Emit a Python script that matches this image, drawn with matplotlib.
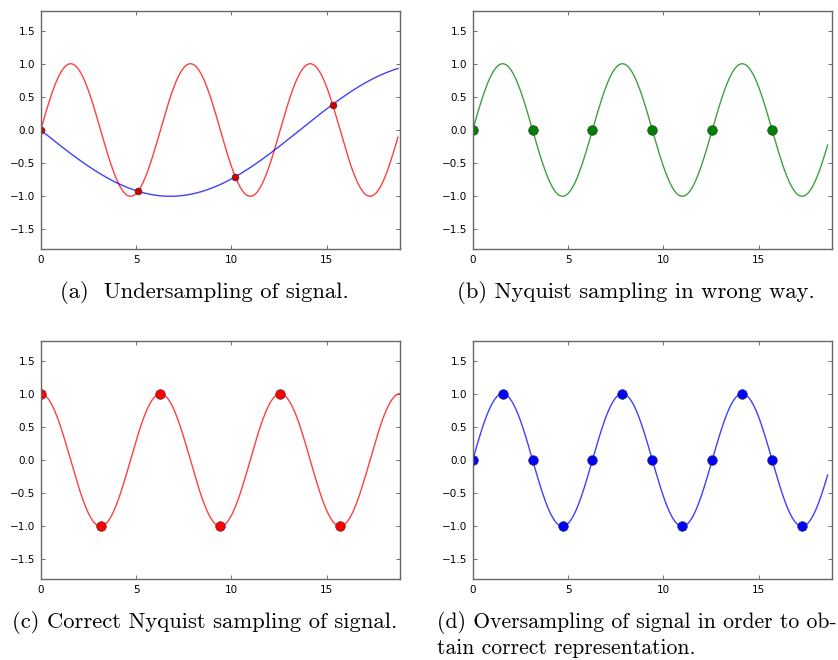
import numpy as np
import matplotlib
matplotlib.use("Agg")
import matplotlib.pyplot as plt

# signal: sin(x) on [0, 6*pi]
x_end = 18.62
x_end_a = 18.74
x_max = 6 * np.pi

# (a) undersampling: sample positions and the aliased signal period
under_x = [0.0, 5.105, 10.21, 15.315]
alias_period = 27.2

# (b) nyquist in the wrong phase (samples at zero crossings)
nyq_x = [0.0, np.pi, 2 * np.pi, 3 * np.pi, 4 * np.pi, 5 * np.pi]

# (c) correct nyquist (cosine sampled at its extremes)
correct_x = [0.0, np.pi, 2 * np.pi, 3 * np.pi, 4 * np.pi, 5 * np.pi]

# (d) oversampling
over_x = [k * np.pi / 2 for k in range(12)]

captions = [
    "(a)  Undersampling of signal.",
    "(b) Nyquist sampling in wrong way.",
    "(c) Correct Nyquist sampling of signal.",
    "(d) Oversampling of signal in order to ob-",
    "tain correct representation.",
]

W, H = 838, 660
fig = plt.figure(figsize=(W / 100, H / 100), dpi=100, facecolor="white")

boxes = [
    (40.7, 10.7), (472.7, 10.7),
    (40.7, 340.7), (472.7, 340.7),
]
ax_w, ax_h = 359.3, 238.6
axes = []
for left, top in boxes:
    ax = fig.add_axes([left / W, 1 - (top + ax_h) / H, ax_w / W, ax_h / H])
    axes.append(ax)

xs = np.linspace(0, x_end, 600)
xs_a = np.linspace(0, x_end_a, 600)
xs_c = np.linspace(0, x_max, 600)

ms = dict(marker="o", linestyle="none", markeredgecolor="#333333", markeredgewidth=0.4)

ax = axes[0]
ax.plot(xs_a, np.sin(xs_a), color="red", lw=1, alpha=0.75)
ax.plot(xs_a, -np.sin(2 * np.pi * xs_a / alias_period), color="blue", lw=1, alpha=0.75)
ax.plot(under_x, np.sin(under_x), color="#cc0000", markersize=5, **ms)

ax = axes[1]
ax.plot(xs, np.sin(xs), color="green", lw=1, alpha=0.75)
ax.plot(nyq_x, np.sin(nyq_x) * 0, color="green", markersize=7, **ms)

ax = axes[2]
ax.plot(xs_c, np.cos(xs_c), color="red", lw=1, alpha=0.75)
ax.plot(correct_x, np.cos(correct_x), color="red", markersize=7, **ms)

ax = axes[3]
ax.plot(xs, np.sin(xs), color="blue", lw=1, alpha=0.75)
ax.plot(over_x, np.round(np.sin(over_x), 6), color="blue", markersize=7, **ms)

for ax in axes:
    ax.set_xlim(0, x_max)
    ax.set_ylim(-1.8, 1.8)
    ax.set_xticks([0, 5, 10, 15])
    ax.set_yticks([-1.5, -1.0, -0.5, 0.0, 0.5, 1.0, 1.5])
    ax.tick_params(direction="in", length=3, width=0.6, color="#555555",
                   labelsize=7.5, top=True, right=True, pad=4)
    for s in ax.spines.values():
        s.set_color("#666666")
        s.set_linewidth(1.0)

cap_font = dict(family="cmr10", size=16.3, color="black")
fig.text(204 / W, 1 - 293 / H, captions[0], ha="center", va="center", **cap_font)
fig.text(636 / W, 1 - 293 / H, captions[1], ha="center", va="center", **cap_font)
fig.text(205 / W, 1 - 623 / H, captions[2], ha="center", va="center", **cap_font)
d_font = dict(cap_font, size=15.6)
fig.text(437 / W, 1 - 623 / H, captions[3], ha="left", va="center", **d_font)
fig.text(437 / W, 1 - 648 / H, captions[4], ha="left", va="center", **d_font)

fig.savefig("out.png", dpi=100, facecolor="white")
